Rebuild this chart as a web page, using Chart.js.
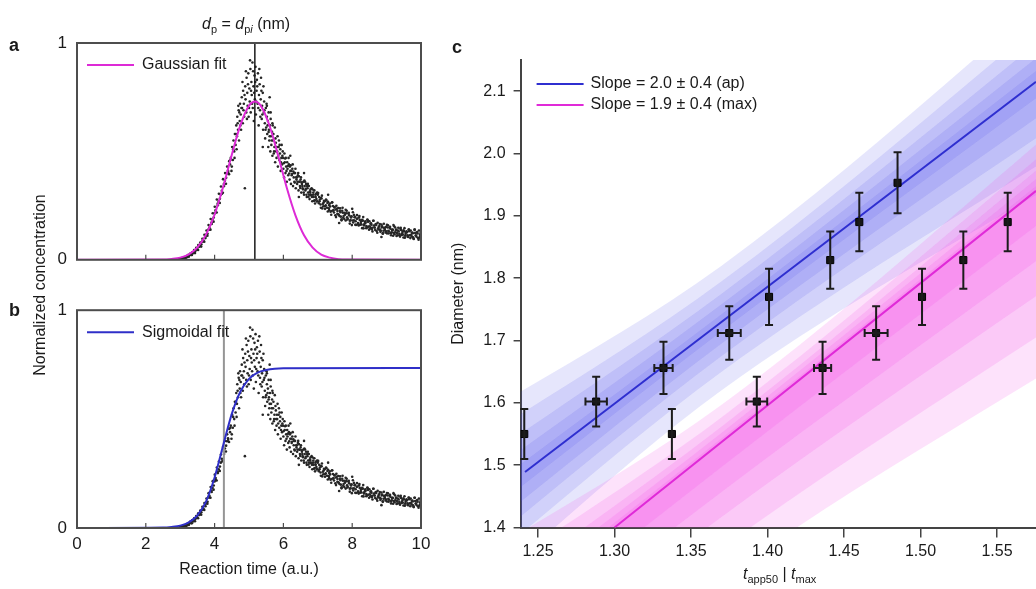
<!DOCTYPE html>
<html lang="en">
<head>
    <meta charset="UTF-8">
    <title>Reaction time and diameter fits</title>
    <script src="https://cdn.jsdelivr.net/npm/chart.js"></script>
    <style>
        body {
            margin: 0;
            background: #fff;
            font-family: "Liberation Sans", Arial, sans-serif;
            color: #1a1a1a;
        }
        #figure {
            position: relative;
            width: 1036px;
            height: 589px;
            overflow: hidden;
        }
        .panel { position: absolute; }
        .note {
            position: absolute;
            font-size: 16px;
            white-space: nowrap;
            pointer-events: none;
        }
        .note sub { font-size: 11px; vertical-align: -4px; line-height: 0; }
        .tag { font-weight: bold; font-size: 18px; }
    </style>
</head>
<body>
<div id="figure">
    <div class="panel" style="left:0;top:0;width:440px;height:280px"><canvas id="chartA"></canvas></div>
    <div class="panel" style="left:0;top:290px;width:440px;height:299px"><canvas id="chartB"></canvas></div>
    <div class="panel" style="left:440px;top:0;width:602px;height:589px"><canvas id="chartC"></canvas></div>

    <div class="note tag" style="left:9px;top:35px">a</div>
    <div class="note tag" style="left:9px;top:300px">b</div>
    <div class="note tag" style="left:452px;top:37px">c</div>
    <div class="note" style="left:202px;top:15px"><i>d</i><sub>p</sub> = <i>d</i><sub>p<i>i</i></sub> (nm)</div>
    <div class="note" style="left:40px;top:285px;transform:translate(-50%,-50%) rotate(-90deg)">Normalized concentration</div>
    <div class="note" style="left:743px;top:565px"><i>t</i><sub>app50</sub> | <i>t</i><sub>max</sub></div>
</div>

<script>
    // ---- panels a / b : concentration vs reaction time ----
    const reactionTicks = [0, 2, 4, 6, 8, 10];
    const concTicks = [0, 1];
    const peakTime = 5.17;   // d_p = d_pi line
    const halfTime = 4.27;   // sigmoid midpoint line

    const gaussTime = [0, 2.5, 2.75, 3.0, 3.25, 3.5, 3.75, 4.0, 4.25, 4.5, 4.75, 5.0, 5.17, 5.35, 5.6, 5.85, 6.1, 6.35, 6.6, 6.85, 7.1, 7.35, 7.6, 7.85, 10];
    const gaussValue = [0, 0.001, 0.004, 0.010, 0.025, 0.057, 0.116, 0.209, 0.337, 0.485, 0.621, 0.711, 0.730, 0.709, 0.617, 0.479, 0.331, 0.205, 0.113, 0.056, 0.024, 0.010, 0.003, 0.001, 0];

    const sigTime = [0, 2.5, 2.75, 3.0, 3.25, 3.5, 3.75, 4.0, 4.25, 4.5, 4.75, 5.0, 5.25, 5.5, 5.75, 6.0, 10];
    const sigValue = [0, 0.002, 0.005, 0.011, 0.026, 0.058, 0.121, 0.232, 0.380, 0.524, 0.627, 0.685, 0.713, 0.725, 0.731, 0.733, 0.735];

    // measured concentration [time, value]
    const measured = [
        [2.92,0.000],[2.96,0.002],[3.00,0.004],[3.04,0.006],[3.07,0.003],[3.10,0.009],[3.13,0.011],[3.16,0.008],[3.19,0.015],[3.22,0.018],
        [3.25,0.014],[3.28,0.024],[3.31,0.027],[3.34,0.022],[3.37,0.034],[3.40,0.038],[3.43,0.031],[3.46,0.047],[3.49,0.052],[3.52,0.045],
        [3.55,0.062],[3.58,0.068],[3.61,0.061],[3.64,0.084],[3.67,0.090],[3.70,0.083],[3.73,0.108],[3.76,0.117],[3.79,0.111],[3.82,0.140],
        [3.85,0.148],[3.88,0.139],[3.91,0.172],[3.94,0.185],[3.97,0.176],[4.00,0.214],[4.03,0.229],[4.06,0.218],[4.09,0.259],[4.12,0.270],
        [4.15,0.262],[4.18,0.300],[4.21,0.318],[4.24,0.309],[4.27,0.350],[4.30,0.365],[4.33,0.351],[4.36,0.398],[4.39,0.412],[4.42,0.395],
        [3.015,0.003],[3.045,0.008],[3.075,0.006],[3.105,0.012],[3.135,0.009],[3.165,0.016],[3.195,0.012],[3.225,0.022],[3.255,0.019],[3.285,0.028],
        [3.315,0.022],[3.345,0.035],[3.375,0.030],[3.405,0.045],[3.435,0.040],[3.465,0.055],[3.495,0.048],[3.525,0.068],[3.555,0.060],[3.585,0.080],
        [3.615,0.072],[3.645,0.097],[3.675,0.085],[3.705,0.115],[3.735,0.100],[3.765,0.135],[3.795,0.120],[3.825,0.160],[3.855,0.140],[3.885,0.188],
        [3.915,0.165],[3.945,0.215],[3.975,0.195],[4.005,0.245],[4.035,0.220],[4.065,0.278],[4.095,0.252],[4.125,0.305],[4.155,0.282],[4.185,0.338],
        [4.215,0.305],[4.245,0.372],[4.275,0.340],[4.305,0.400],[4.335,0.378],[4.365,0.430],[4.395,0.405],[4.425,0.455],
        [4.45,0.44],[4.47,0.47],[4.49,0.41],[4.51,0.52],[4.53,0.46],[4.55,0.55],[4.57,0.50],[4.59,0.58],[4.61,0.53],[4.63,0.62],
        [4.65,0.57],[4.66,0.66],[4.68,0.60],[4.70,0.69],[4.71,0.55],[4.73,0.64],[4.74,0.72],[4.76,0.67],[4.77,0.60],[4.79,0.75],
        [4.80,0.70],[4.82,0.63],[4.83,0.78],[4.85,0.72],[4.86,0.66],[4.88,0.33],[4.89,0.80],[4.90,0.74],[4.92,0.68],[4.93,0.84],
        [4.95,0.77],[4.96,0.71],[4.98,0.86],[4.99,0.66],[5.01,0.79],[5.02,0.73],[5.04,0.88],[5.05,0.68],[5.07,0.82],[5.08,0.76],
        [5.10,0.91],[5.11,0.70],[5.13,0.80],[5.14,0.64],[5.16,0.85],[5.17,0.74],[5.19,0.89],[5.20,0.67],[5.22,0.78],[5.23,0.83],
        [5.25,0.72],[5.26,0.86],[5.28,0.62],[5.29,0.76],[5.31,0.81],[5.32,0.69],[5.34,0.74],[5.35,0.84],[5.37,0.65],[5.38,0.71],
        [5.40,0.77],[5.41,0.60],[5.43,0.68],[5.44,0.73],[5.46,0.63],[5.47,0.56],[5.49,0.70],[5.50,0.61],[5.52,0.66],[5.53,0.58],
        [5.55,0.64],[5.56,0.52],[5.58,0.60],[5.59,0.55],[5.61,0.62],[5.62,0.50],[5.64,0.57],[5.65,0.53],[5.67,0.59],[5.68,0.48],
        [4.46,0.46],[4.50,0.43],[4.54,0.51],[4.58,0.47],[4.62,0.58],[4.64,0.51],[4.67,0.63],[4.69,0.71],[4.72,0.68],[4.75,0.62],
        [4.78,0.70],[4.81,0.82],[4.84,0.69],[4.87,0.76],[4.91,0.87],[4.94,0.65],[4.97,0.81],[5.00,0.70],[5.03,0.92],[5.06,0.78],
        [5.09,0.72],[5.12,0.87],[5.15,0.77],[5.18,0.82],[5.21,0.73],[5.24,0.80],[5.27,0.70],[5.30,0.88],[5.33,0.66],[5.36,0.78],
        [5.39,0.67],[5.42,0.80],[5.45,0.69],[5.48,0.60],[5.51,0.72],[5.54,0.62],[5.57,0.68],[5.60,0.57],[5.63,0.65],[5.66,0.55],
        [5.69,0.62],[5.73,0.50],[5.77,0.56],[5.81,0.52],[5.85,0.48],[5.89,0.53],[5.93,0.45],[5.97,0.48],
        [5.70,0.55],[5.72,0.49],[5.74,0.52],[5.76,0.45],[5.78,0.54],[5.80,0.47],[5.82,0.50],[5.84,0.43],[5.86,0.52],[5.88,0.46],
        [5.90,0.49],[5.92,0.41],[5.94,0.47],[5.96,0.44],[5.98,0.50],[6.00,0.42],[6.02,0.38],[6.04,0.45],[6.06,0.40],[6.08,0.43],
        [6.10,0.36],[6.12,0.42],[6.14,0.39],[6.16,0.44],[6.18,0.37],[6.20,0.41],[6.22,0.35],[6.24,0.39],[6.26,0.42],[6.28,0.34],
        [6.30,0.38],[6.32,0.36],[6.34,0.40],[6.36,0.33],[6.38,0.37],[6.40,0.35],[6.42,0.39],[6.44,0.32],[6.46,0.36],[6.48,0.34],
        [6.50,0.37],[6.52,0.31],[6.54,0.35],[6.56,0.33],[6.58,0.36],[6.60,0.30],[6.62,0.34],[6.64,0.32],[6.66,0.35],[6.68,0.29],
        [6.70,0.33],[6.72,0.31],[6.74,0.34],[6.76,0.28],[6.78,0.31],[6.80,0.30],[6.82,0.33],[6.84,0.27],[6.86,0.30],[6.88,0.29],
        [6.90,0.32],[6.92,0.26],[6.94,0.29],[6.96,0.28],[6.98,0.31],
        [7.00,0.300],[7.03,0.261],[7.06,0.278],[7.09,0.240],[7.12,0.296],[7.15,0.258],[7.18,0.272],[7.21,0.235],[7.24,0.278],[7.27,0.240],
        [7.30,0.267],[7.33,0.229],[7.36,0.246],[7.39,0.208],[7.42,0.265],[7.45,0.227],[7.48,0.241],[7.51,0.205],[7.54,0.249],[7.57,0.212],
        [7.60,0.239],[7.63,0.202],[7.66,0.219],[7.69,0.182],[7.72,0.240],[7.75,0.202],[7.78,0.217],[7.81,0.181],[7.84,0.226],[7.87,0.189],
        [7.90,0.217],[7.93,0.180],[7.96,0.198],[7.99,0.160],[8.02,0.219],[8.05,0.182],[8.08,0.197],[8.11,0.161],[8.14,0.206],[8.17,0.169],
        [8.20,0.195],[8.23,0.162],[8.26,0.178],[8.29,0.146],[8.32,0.197],[8.35,0.164],[8.38,0.178],[8.41,0.146],[8.44,0.186],[8.47,0.153],
        [8.50,0.178],[8.53,0.146],[8.56,0.162],[8.59,0.131],[8.62,0.180],[8.65,0.149],[8.68,0.163],[8.71,0.133],[8.74,0.171],[8.77,0.140],
        [8.80,0.165],[8.83,0.134],[8.86,0.149],[8.89,0.120],[8.92,0.166],[8.95,0.137],[8.98,0.151],[9.01,0.122],[9.04,0.159],[9.07,0.130],
        [9.10,0.152],[9.13,0.124],[9.16,0.138],[9.19,0.111],[9.22,0.155],[9.25,0.127],[9.28,0.140],[9.31,0.113],[9.34,0.148],[9.37,0.120],
        [9.40,0.143],[9.43,0.115],[9.46,0.129],[9.49,0.103],[9.52,0.146],[9.55,0.119],[9.58,0.132],[9.61,0.106],[9.64,0.140],[9.67,0.113],
        [9.70,0.135],[9.73,0.108],[9.76,0.122],[9.79,0.096],[9.82,0.139],[9.85,0.112],[9.88,0.126],[9.91,0.100],[9.94,0.135],[9.97,0.108],
        [10.0,0.128],
        [6.01,0.445],[6.05,0.467],[6.09,0.410],[6.13,0.433],[6.17,0.398],[6.21,0.436],[6.25,0.396],[6.29,0.407],[6.33,0.356],[6.37,0.380],
        [6.41,0.360],[6.45,0.385],[6.49,0.331],[6.53,0.357],[6.57,0.325],[6.61,0.365],[6.65,0.327],[6.69,0.340],[6.73,0.291],[6.77,0.316],
        [6.81,0.297],[6.85,0.324],[6.89,0.272],[6.93,0.300],[6.97,0.269],[7.01,0.308],[7.05,0.270],[7.09,0.285],[7.13,0.237],[7.17,0.264],
        [7.21,0.247],[7.25,0.274],[7.29,0.223],[7.33,0.252],[7.37,0.222],[7.41,0.264],[7.45,0.228],[7.49,0.243],[7.53,0.197],[7.57,0.225],
        [7.61,0.208],[7.65,0.237],[7.69,0.187],[7.73,0.217],[7.77,0.188],[7.81,0.231],[7.85,0.196],[7.89,0.213],[7.93,0.167],[7.97,0.195],
        [8.01,0.181],[8.05,0.207],[8.09,0.162],[8.13,0.189],[8.17,0.163],[8.21,0.202],[8.25,0.170],[8.29,0.185],[8.33,0.145],[8.37,0.170],
        [8.41,0.156],[8.45,0.183],[8.49,0.139],[8.53,0.166],[8.57,0.141],[8.61,0.180],[8.65,0.149],[8.69,0.165],[8.73,0.125],[8.77,0.151],
        [8.81,0.139],[8.85,0.163],[8.89,0.123],[8.93,0.148],[8.97,0.126],[9.01,0.161],[9.05,0.134],[9.09,0.148],[9.13,0.113],[9.17,0.137],
        [9.21,0.124],[9.25,0.149],[9.29,0.110],[9.33,0.135],[9.37,0.113],[9.41,0.148],[9.45,0.121],[9.49,0.136],[9.53,0.102],[9.57,0.126],
        [9.61,0.113],[9.65,0.139],[9.69,0.100],[9.73,0.125],[9.77,0.104],[9.81,0.139],[9.85,0.112],[9.89,0.128],[9.93,0.093],[9.97,0.117],
        [5.52,0.71],[5.57,0.59],[5.63,0.68],[5.68,0.63],[5.71,0.58],[5.75,0.61],[5.79,0.50],[5.83,0.57],[5.87,0.55],[5.91,0.51],
        [5.95,0.53],[5.99,0.47],[6.03,0.49],[6.07,0.47],[6.11,0.45],[6.15,0.47],[6.19,0.43],[6.23,0.41],[6.27,0.44],[6.31,0.40],
        [6.35,0.42],[6.39,0.38],[6.43,0.40],[6.47,0.36],[6.51,0.38],[6.55,0.34],[6.59,0.31],[6.63,0.36],[6.67,0.30],[6.71,0.35],
        [6.75,0.30],[6.79,0.325],[6.83,0.29],[6.87,0.31],[6.91,0.275],[6.95,0.305],[6.99,0.27],[7.04,0.29],[7.08,0.255],[7.11,0.283],
        [7.16,0.247],[7.20,0.27],[7.23,0.251],[7.28,0.262],[7.32,0.238],[7.35,0.26],[7.40,0.225],[7.44,0.248],[7.47,0.218],[7.52,0.232],
        [7.56,0.236],[7.59,0.21],[7.64,0.225],[7.67,0.199],[7.71,0.226],[7.74,0.194],[7.79,0.208],[7.83,0.215],[7.86,0.186],[7.91,0.205],
        [7.95,0.183],[7.98,0.201],[8.03,0.172],[8.07,0.196],[8.10,0.178],[8.15,0.19],[8.19,0.158],[8.22,0.184],[8.27,0.163],[8.31,0.18],
        [8.34,0.158],[8.39,0.171],[8.43,0.149],[8.46,0.175],[8.51,0.155],[8.55,0.168],[8.58,0.148],[8.63,0.158],[8.67,0.138],[8.70,0.161],
        [8.75,0.144],[8.79,0.156],[8.82,0.129],[8.87,0.154],[8.91,0.134],[8.94,0.146],[8.99,0.131],[9.03,0.149],[9.06,0.121],[9.11,0.143],
        [9.15,0.127],[9.18,0.139],[9.23,0.118],[9.27,0.136],[9.30,0.124],[9.35,0.131],[9.39,0.107],[9.42,0.138],[9.47,0.116],[9.51,0.131],
        [9.54,0.111],[9.59,0.127],[9.63,0.105],[9.66,0.132],[9.71,0.114],[9.75,0.126],[9.78,0.098],[9.83,0.124],[9.87,0.106],[9.90,0.121],
        [9.95,0.102],[9.99,0.124],
        [6.60,0.40],[7.30,0.30],[8.00,0.235],[9.20,0.16],[6.20,0.48],[5.60,0.75],[5.40,0.52],[6.45,0.29],[7.62,0.17],[8.85,0.105]
    ];

    // ---- panel c : diameter vs t_app50 | t_max ----
    const diameterTicks = [1.4, 1.5, 1.6, 1.7, 1.8, 1.9, 2.0, 2.1];
    const ratioTicks = [1.25, 1.30, 1.35, 1.40, 1.45, 1.50, 1.55];
    const diameter = [1.550, 1.602, 1.656, 1.712, 1.770, 1.829, 1.890, 1.953];
    const diameterErr = [0.040, 0.040, 0.042, 0.043, 0.045, 0.046, 0.047, 0.049];
    const apTime = [1.241, 1.288, 1.332, 1.375, 1.401, 1.441, 1.460, 1.485];
    const apTimeErr = [0.002, 0.007, 0.006, 0.0075, 0.002, 0.002, 0.002, 0.002];
    const maxTime = [1.3375, 1.393, 1.436, 1.471, 1.501, 1.528, 1.557];
    const maxTimeErr = [0.002, 0.0068, 0.0056, 0.0075, 0.002, 0.002, 0.002];

    const apFitX = [1.2415, 1.5755];
    const apFitY = [1.489, 2.115];
    const maxFitX = [1.300, 1.5755];
    const maxFitY = [1.400, 1.940];

    // spread of the bootstrap fits, outer (faint) to inner (dense), sampled at bandX
    const bandX = [1.20, 1.37, 1.62];
    const apSpreadLow = [
        [1.271, 1.620, 1.999], [1.311, 1.650, 2.049], [1.341, 1.675, 2.099], [1.366, 1.695, 2.134], [1.391, 1.715, 2.169]
    ];
    const apSpreadHigh = [
        [1.561, 1.820, 2.329], [1.521, 1.795, 2.294], [1.486, 1.775, 2.264], [1.456, 1.758, 2.239], [1.431, 1.742, 2.217]
    ];
    const maxSpreadLow = [
        [0.984, 1.317, 1.707], [1.044, 1.367, 1.777], [1.094, 1.417, 1.847], [1.134, 1.457, 1.907], [1.169, 1.497, 1.967]
    ];
    const maxSpreadHigh = [
        [1.334, 1.597, 2.107], [1.294, 1.577, 2.082], [1.259, 1.562, 2.062], [1.234, 1.552, 2.047], [1.216, 1.543, 2.035]
    ];

    Chart.defaults.font.family = '"Liberation Sans", Arial, sans-serif';
    Chart.defaults.font.size = 16;
    Chart.defaults.color = '#1a1a1a';
    Chart.defaults.animation = false;
    Chart.defaults.plugins.legend.display = false;
    Chart.defaults.plugins.tooltip.enabled = false;

    const pts = (xs, ys) => xs.map((x, i) => ({ x: x, y: ys[i] }));
    const fixedTicks = list => s => { s.ticks = list.map(v => ({ value: v })); };

    function timeFrame(legendText, legendColor) {
        return {
            id: 'timeFrame',
            afterDatasetsDraw(chart) {
                const ctx = chart.ctx, a = chart.chartArea, xs = chart.scales.x;
                ctx.save();
                ctx.strokeStyle = '#4d4d4d';
                ctx.lineWidth = 2;
                ctx.strokeRect(a.left, a.top, a.right - a.left, a.bottom - a.top);
                ctx.lineWidth = 1.2;
                ctx.beginPath();
                [2, 4, 6, 8].forEach(v => {
                    const px = xs.getPixelForValue(v);
                    ctx.moveTo(px, a.bottom);
                    ctx.lineTo(px, a.bottom - 5);
                });
                ctx.stroke();
                // legend
                ctx.strokeStyle = legendColor;
                ctx.lineWidth = 2;
                ctx.beginPath();
                ctx.moveTo(a.left + 10, a.top + 22);
                ctx.lineTo(a.left + 57, a.top + 22);
                ctx.stroke();
                ctx.fillStyle = '#1a1a1a';
                ctx.font = '16px "Liberation Sans", Arial, sans-serif';
                ctx.textBaseline = 'middle';
                ctx.fillText(legendText, a.left + 65, a.top + 22);
                ctx.restore();
            }
        };
    }

    const concAxis = {
        min: 0, max: 1,
        afterFit: s => { s.width = 77; },
        afterBuildTicks: fixedTicks(concTicks),
        grid: { display: false, drawTicks: false },
        border: { display: false },
        ticks: { padding: 10, font: { size: 17 } }
    };

    const scatterSet = {
        type: 'scatter',
        data: measured.map(p => ({ x: p[0], y: p[1] })),
        pointRadius: 1.3,
        pointBorderWidth: 0,
        backgroundColor: '#262626',
        order: 3
    };

    new Chart(document.getElementById('chartA'), {
        type: 'scatter',
        data: {
            datasets: [
                { type: 'line', data: pts(gaussTime, gaussValue), borderColor: '#dd2ad6', borderWidth: 2,
                  pointRadius: 0, cubicInterpolationMode: 'monotone', order: 1 },
                { type: 'line', data: pts([peakTime, peakTime], concTicks), borderColor: '#1a1a1a', borderWidth: 1.5,
                  pointRadius: 0, order: 2 },
                scatterSet
            ]
        },
        options: {
            responsive: true, maintainAspectRatio: false,
            layout: { padding: { top: 43, right: 19, bottom: 11, left: 0 } },
            scales: {
                x: { type: 'linear', min: 0, max: 10, display: false },
                y: concAxis
            }
        },
        plugins: [timeFrame('Gaussian fit', '#dd2ad6')]
    });

    new Chart(document.getElementById('chartB'), {
        type: 'scatter',
        data: {
            datasets: [
                { type: 'line', data: pts(sigTime, sigValue), borderColor: '#2f2fc8', borderWidth: 2,
                  pointRadius: 0, cubicInterpolationMode: 'monotone', order: 1 },
                { type: 'line', data: pts([halfTime, halfTime], concTicks), borderColor: '#959595', borderWidth: 2,
                  pointRadius: 0, order: 2 },
                scatterSet
            ]
        },
        options: {
            responsive: true, maintainAspectRatio: false,
            layout: { padding: { top: 13, right: 19, bottom: 0, left: 0 } },
            scales: {
                x: {
                    type: 'linear', min: 0, max: 10,
                    afterFit: s => { s.height = 61; },
                    afterBuildTicks: fixedTicks(reactionTicks),
                    grid: { display: false, drawTicks: false },
                    border: { display: false },
                    ticks: { padding: 6, autoSkip: false, maxRotation: 0, font: { size: 17 } },
                    title: { display: true, text: 'Reaction time (a.u.)', padding: { top: 0, bottom: 10 } }
                },
                y: concAxis
            }
        },
        plugins: [timeFrame('Sigmoidal fit', '#2f2fc8')]
    });

    // panel c
    function spread(lows, highs, color) {
        const sets = [];
        lows.forEach((low, k) => {
            sets.push({ type: 'line', data: pts(bandX, low), borderWidth: 0, pointRadius: 0, fill: false,
                        cubicInterpolationMode: 'monotone', order: 6, clip: 0 });
            sets.push({ type: 'line', data: pts(bandX, highs[k]), borderWidth: 0, pointRadius: 0, fill: '-1',
                        cubicInterpolationMode: 'monotone', backgroundColor: color, order: 6, clip: 0 });
        });
        return sets;
    }

    const errorBars = {
        id: 'errorBars',
        afterDatasetsDraw(chart) {
            const ctx = chart.ctx, xs = chart.scales.x, ys = chart.scales.y;
            ctx.save();
            ctx.strokeStyle = '#1c1c1c';
            ctx.lineWidth = 2;
            [[apTime, apTimeErr], [maxTime, maxTimeErr]].forEach(([times, terr]) => {
                times.forEach((t, i) => {
                    const px = xs.getPixelForValue(t);
                    const py = ys.getPixelForValue(diameter[i]);
                    const top = ys.getPixelForValue(diameter[i] + diameterErr[i]);
                    const bot = ys.getPixelForValue(diameter[i] - diameterErr[i]);
                    const l = xs.getPixelForValue(t - terr[i]);
                    const r = xs.getPixelForValue(t + terr[i]);
                    ctx.beginPath();
                    ctx.moveTo(px, top); ctx.lineTo(px, bot);
                    ctx.moveTo(px - 4, top); ctx.lineTo(px + 4, top);
                    ctx.moveTo(px - 4, bot); ctx.lineTo(px + 4, bot);
                    if (r - l > 9) {
                        ctx.moveTo(l, py); ctx.lineTo(r, py);
                        ctx.moveTo(l, py - 4); ctx.lineTo(l, py + 4);
                        ctx.moveTo(r, py - 4); ctx.lineTo(r, py + 4);
                    }
                    ctx.stroke();
                });
            });
            // legend
            const a = chart.chartArea;
            [['Slope = 2.0 \u00b1 0.4 (ap)', '#2f2fd0'], ['Slope = 1.9 \u00b1 0.4 (max)', '#e02ad8']].forEach(([txt, col], k) => {
                const y = 84 + k * 21;
                ctx.strokeStyle = col;
                ctx.lineWidth = 2;
                ctx.beginPath();
                ctx.moveTo(a.left + 16, y);
                ctx.lineTo(a.left + 63, y);
                ctx.stroke();
                ctx.fillStyle = '#1a1a1a';
                ctx.font = '16px "Liberation Sans", Arial, sans-serif';
                ctx.textBaseline = 'middle';
                ctx.fillText(txt, a.left + 70, y);
            });
            ctx.restore();
        }
    };

    new Chart(document.getElementById('chartC'), {
        type: 'scatter',
        data: {
            datasets: [
                { data: pts(apTime, diameter), pointStyle: 'rect', pointRadius: 5, backgroundColor: '#161616',
                  borderColor: '#000', borderWidth: 1, order: 0 },
                { data: pts(maxTime, diameter), pointStyle: 'rect', pointRadius: 5, backgroundColor: '#161616',
                  borderColor: '#000', borderWidth: 1, order: 0 },
                { type: 'line', data: pts(apFitX, apFitY), borderColor: '#2f2fd0', borderWidth: 2, pointRadius: 0, order: 1 },
                { type: 'line', data: pts(maxFitX, maxFitY), borderColor: '#e02ad8', borderWidth: 2, pointRadius: 0, order: 1 },
                ...spread(maxSpreadLow, maxSpreadHigh, 'rgba(240,60,225,0.15)'),
                ...spread(apSpreadLow, apSpreadHigh, 'rgba(75,75,232,0.14)')
            ]
        },
        options: {
            responsive: true, maintainAspectRatio: false,
            layout: { padding: { top: 60, right: 0, bottom: 0, left: 0 } },
            scales: {
                x: {
                    type: 'linear', min: 1.2386, max: 1.5755,
                    afterFit: s => { s.height = 61.5; },
                    afterBuildTicks: fixedTicks(ratioTicks),
                    grid: { drawOnChartArea: false, tickLength: 10, color: '#444', lineWidth: 1.5 },
                    border: { color: '#444', width: 2 },
                    ticks: { padding: 4, autoSkip: false, maxRotation: 0, callback: v => v.toFixed(2) }
                },
                y: {
                    min: 1.4, max: 2.15,
                    afterFit: s => { s.width = 80.6; },
                    afterBuildTicks: fixedTicks(diameterTicks),
                    grid: { drawOnChartArea: false, tickLength: 7, color: '#444', lineWidth: 1.5 },
                    border: { color: '#444', width: 2 },
                    ticks: { padding: 8, callback: v => v.toFixed(1) },
                    title: { display: true, text: 'Diameter (nm)', padding: { top: 9, bottom: 0 } }
                }
            }
        },
        plugins: [errorBars]
    });
</script>
</body>
</html>
